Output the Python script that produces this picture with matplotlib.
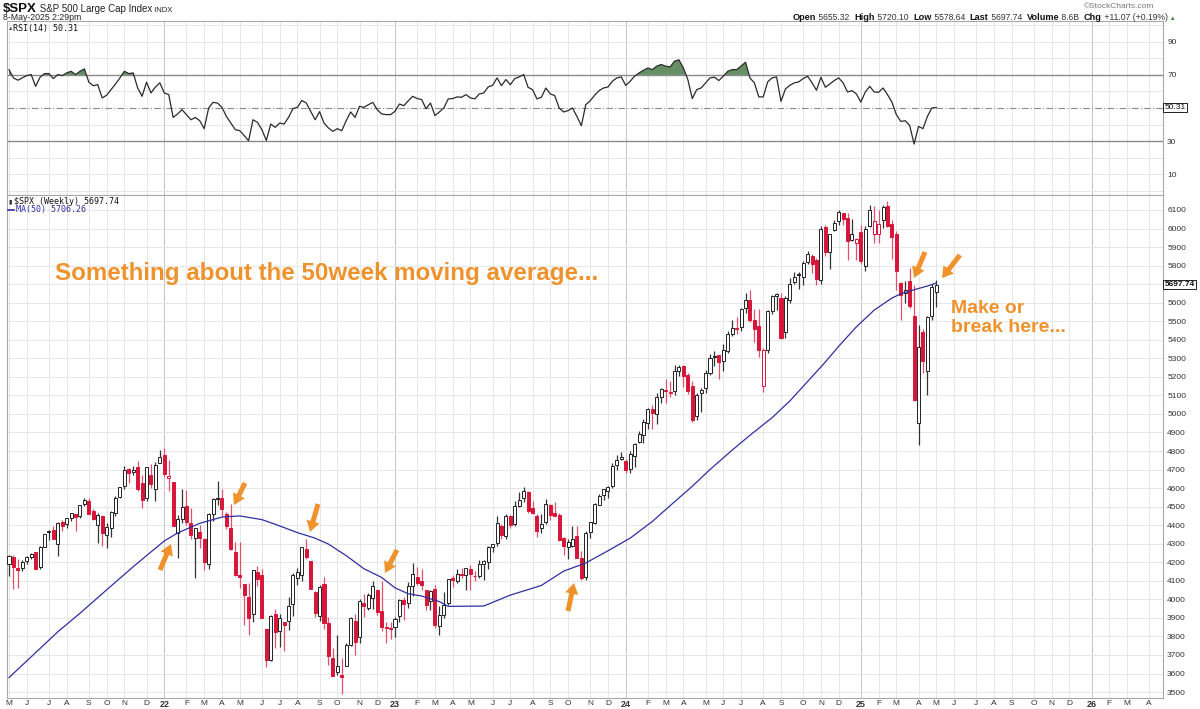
import matplotlib
matplotlib.use('Agg')
import matplotlib.pyplot as plt
import matplotlib.transforms as mtrans
import numpy as np
import pandas as pd

# ---------------- data (weekly $SPX, first bar = week of 3-May-2021) ----------------
first_week = '2021-05-03'
prev_close = 4181  # close of the week before the first bar

opens = [4192, 4228, 4169, 4170, 4207, 4230, 4255, 4173, 4285, 4361,
         4373, 4296, 4417, 4407, 4438, 4462, 4450, 4514, 4533, 4474,
         4402, 4450, 4349, 4385, 4464, 4553, 4610, 4701, 4689, 4712,
         4628, 4548, 4669, 4594, 4733, 4778, 4655, 4632, 4356, 4431,
         4505, 4412, 4332, 4363, 4328, 4188, 4462, 4541, 4547, 4462,
         4385, 4256, 4130, 4082, 4013, 3920, 4149, 4134, 3839, 3674,
         3920, 3831, 3880, 3883, 3976, 4113, 4133, 4273, 4205, 4041,
         3910, 4084, 3871, 3686, 3610, 3590, 3638, 3754, 3881, 3798,
         3982, 3956, 4006, 4053, 3939, 3853, 3843, 3853, 3911, 3999,
         3979, 4070, 4120, 4097, 4053, 3992, 4055, 3855, 3917, 3982,
         4116, 4098, 4138, 4132, 4166, 4124, 4126, 4190, 4204, 4282,
         4305, 4396, 4344, 4450, 4405, 4503, 4547, 4580, 4492, 4450,
         4386, 4415, 4510, 4464, 4454, 4330, 4284, 4290, 4342, 4224,
         4120, 4364, 4412, 4511, 4563, 4587, 4610, 4725, 4759, 4745,
         4704, 4772, 4848, 4887, 4950, 5026, 4997, 5093, 5130, 5111,
         5123, 5234, 5258, 5211, 5150, 4988, 5115, 5142, 5221, 5311,
         5316, 5284, 5341, 5433, 5459, 5471, 5572, 5614, 5505, 5476,
         5151, 5345, 5557, 5637, 5623, 5442, 5616, 5711, 5757, 5737,
         5818, 5853, 5833, 5723, 6008, 5875, 5992, 6040, 6083, 6058,
         5940, 5920, 5982, 5800, 6015, 5969, 5970, 6046, 6121, 6026,
         5968, 5705, 5653, 5718, 5527, 4953, 5441, 5232, 5529, 5655.32]

highs = [4238, 4238, 4218, 4213, 4234, 4249, 4258, 4287, 4355, 4372,
         4393, 4415, 4429, 4440, 4468, 4462, 4510, 4545, 4549, 4486,
         4465, 4457, 4411, 4475, 4559, 4608, 4718, 4706, 4718, 4744,
         4673, 4713, 4731, 4740, 4808, 4819, 4749, 4632, 4453, 4595,
         4590, 4490, 4385, 4402, 4329, 4465, 4546, 4637, 4593, 4471,
         4513, 4308, 4307, 4082, 4090, 4158, 4178, 4164, 3840, 3913,
         3946, 3919, 3880, 4013, 4140, 4167, 4280, 4326, 4205, 4044,
         4077, 4119, 3907, 3736, 3806, 3685, 3763, 3906, 3919, 4001,
         4028, 4034, 4100, 4057, 4101, 3876, 3878, 3906, 4003, 4015,
         4095, 4195, 4176, 4163, 4053, 4049, 4079, 3964, 4039, 4110,
         4133, 4163, 4170, 4170, 4186, 4154, 4212, 4212, 4290, 4299,
         4448, 4409, 4458, 4456, 4528, 4578, 4607, 4584, 4528, 4460,
         4458, 4541, 4514, 4527, 4466, 4338, 4324, 4393, 4393, 4259,
         4366, 4418, 4521, 4568, 4595, 4609, 4738, 4778, 4793, 4755,
         4799, 4843, 4907, 4975, 5030, 5048, 5111, 5140, 5190, 5180,
         5262, 5265, 5264, 5222, 5176, 5114, 5139, 5239, 5325, 5342,
         5316, 5375, 5447, 5505, 5523, 5570, 5655, 5670, 5566, 5566,
         5358, 5563, 5643, 5652, 5652, 5636, 5733, 5767, 5767, 5823,
         5878, 5862, 5842, 6013, 6018, 5973, 6045, 6100, 6085, 6085,
         6050, 5950, 6021, 6014, 6128, 6120, 6101, 6128, 6147, 6044,
         5986, 5711, 5715, 5786, 5695, 5481, 5460, 5528, 5700, 5720.10]

lows = [4127, 4057, 4062, 4155, 4188, 4218, 4165, 4165, 4281, 4320,
        4327, 4233, 4368, 4387, 4424, 4367, 4440, 4506, 4458, 4427,
        4306, 4288, 4279, 4337, 4448, 4546, 4596, 4630, 4672, 4585,
        4495, 4532, 4600, 4532, 4733, 4662, 4582, 4395, 4223, 4414,
        4401, 4327, 4115, 4279, 4157, 4161, 4424, 4507, 4450, 4381,
        4268, 4124, 4062, 3859, 3810, 3876, 4074, 3900, 3637, 3666,
        3739, 3743, 3722, 3837, 3910, 4080, 4097, 4218, 4057, 3907,
        3883, 3838, 3647, 3584, 3590, 3492, 3638, 3748, 3699, 3764,
        3906, 3940, 3947, 3918, 3827, 3764, 3784, 3795, 3877, 3886,
        3953, 4019, 4079, 4048, 3944, 3943, 3847, 3808, 3902, 3970,
        4069, 4087, 4114, 4049, 4048, 4099, 4113, 4103, 4166, 4253,
        4290, 4328, 4328, 4383, 4393, 4497, 4527, 4464, 4458, 4335,
        4356, 4409, 4430, 4448, 4316, 4238, 4216, 4283, 4223, 4104,
        4103, 4329, 4405, 4507, 4537, 4547, 4600, 4699, 4751, 4682,
        4682, 4715, 4845, 4845, 4918, 4920, 4946, 5058, 5057, 5094,
        5104, 5204, 5146, 5107, 4954, 4970, 5011, 5114, 5211, 5257,
        5191, 5234, 5328, 5420, 5433, 5448, 5543, 5497, 5390, 5306,
        5120, 5331, 5540, 5561, 5402, 5407, 5596, 5702, 5674, 5696,
        5808, 5762, 5697, 5703, 5853, 5783, 5986, 6018, 6020, 5832,
        5933, 5829, 5809, 5773, 6008, 5923, 5923, 6005, 6009, 5837,
        5667, 5505, 5597, 5572, 5069, 4835, 5220, 5101, 5506, 5578.64]

closes = [4232, 4174, 4156, 4204, 4230, 4247, 4166, 4281, 4352, 4370,
          4327, 4412, 4395, 4437, 4468, 4442, 4509, 4535, 4459, 4433,
          4455, 4357, 4391, 4471, 4545, 4605, 4697, 4683, 4698, 4595,
          4538, 4712, 4620, 4726, 4766, 4677, 4663, 4398, 4432, 4500,
          4419, 4349, 4385, 4329, 4204, 4463, 4543, 4546, 4488, 4393,
          4272, 4132, 4123, 4024, 3901, 4158, 4109, 3901, 3675, 3912,
          3825, 3899, 3863, 3962, 4130, 4145, 4280, 4228, 4058, 3924,
          4067, 3873, 3693, 3586, 3640, 3583, 3752, 3901, 3771, 3993,
          3965, 4026, 4072, 3934, 3852, 3845, 3840, 3895, 3999, 3973,
          4071, 4136, 4090, 4079, 3970, 4046, 3862, 3917, 3971, 4109,
          4105, 4138, 4133, 4169, 4136, 4124, 4192, 4205, 4282, 4299,
          4410, 4348, 4450, 4399, 4505, 4536, 4582, 4478, 4464, 4370,
          4406, 4515, 4457, 4450, 4320, 4288, 4308, 4327, 4224, 4117,
          4358, 4415, 4514, 4559, 4594, 4604, 4719, 4754, 4770, 4697,
          4784, 4840, 4891, 4959, 5027, 5006, 5089, 5137, 5124, 5117,
          5234, 5254, 5204, 5123, 4967, 5100, 5128, 5223, 5303, 5305,
          5278, 5347, 5431, 5465, 5460, 5567, 5615, 5505, 5459, 5346,
          5344, 5554, 5634, 5648, 5408, 5626, 5703, 5738, 5751, 5815,
          5865, 5808, 5729, 5996, 5871, 5969, 6032, 6090, 6051, 5931,
          5971, 5942, 5827, 5997, 6101, 6041, 6026, 6115, 6013, 5955,
          5770, 5639, 5667, 5581, 5074, 5363, 5283, 5525, 5687, 5697.74]

# 50-week moving average, read at sample weeks
ma_week = [0, 3, 7, 11, 16, 23, 28, 31, 35, 38, 43, 48, 52, 57, 60, 65, 69, 72, 76, 80,
           84, 87, 90, 93, 97, 99, 107, 113, 120, 125, 130, 135, 140, 145, 149, 154,
           158, 163, 167, 172, 176, 180, 184, 187, 191, 195, 199, 201, 204, 207, 209]
ma_value = [3578, 3645, 3735, 3825, 3925, 4072, 4176, 4236, 4315, 4358, 4410, 4444, 4450,
            4430, 4405, 4360, 4330, 4298, 4236, 4165, 4118, 4062, 4030, 4018, 3988,
            3962, 3964, 4023, 4075, 4152, 4196, 4262, 4330, 4420, 4505, 4610, 4700,
            4805, 4885, 4980, 5070, 5175, 5280, 5365, 5470, 5560, 5625, 5648, 5670,
            5690, 5706.26]

# RSI(14), one value per weekly bar
rsi = [73.2, 68.2, 66.8, 68.2, 69.6, 70.2, 63.1, 68.6, 70.8, 70.8,
       67.8, 70.2, 69.6, 71.2, 72.2, 70.2, 72.2, 73.6, 65.6, 63.5,
       64.1, 56.1, 57.7, 61.1, 64.5, 68.2, 72.2, 70.8, 71.2, 62.1,
       57.1, 65.6, 59.1, 62.7, 65.2, 59.1, 58.1, 44.3, 46.4, 49.0,
       46.0, 42.9, 44.3, 42.3, 37.5, 50.0, 53.4, 53.0, 50.4, 44.9,
       40.9, 36.9, 36.3, 33.4, 30.2, 42.9, 41.3, 36.9, 30.4, 40.3,
       38.3, 40.9, 40.3, 44.3, 49.6, 50.4, 54.6, 53.0, 48.0, 42.9,
       47.8, 40.9, 37.9, 35.9, 37.5, 36.3, 42.3, 47.6, 44.3, 51.0,
       50.4, 52.0, 53.4, 49.0, 46.4, 46.0, 46.0, 48.0, 52.4, 51.4,
       54.4, 57.1, 55.7, 55.1, 49.6, 53.0, 45.4, 47.6, 50.0, 55.5,
       55.7, 56.7, 56.5, 58.1, 56.1, 55.5, 58.5, 59.1, 62.7, 63.7,
       68.2, 63.5, 67.2, 64.1, 67.8, 68.8, 70.2, 62.5, 61.1, 55.5,
       56.5, 62.1, 58.5, 57.5, 50.0, 47.6, 48.4, 50.0, 44.9, 39.3,
       52.0, 54.4, 57.7, 60.5, 62.1, 62.7, 66.2, 68.2, 68.8, 63.6,
       66.2, 69.2, 71.2, 72.8, 74.2, 73.2, 75.3, 76.3, 75.3, 74.8,
       78.3, 79.1, 74.2, 67.2, 55.7, 61.1, 62.1, 65.2, 68.2, 68.6,
       66.6, 69.2, 72.2, 73.2, 73.2, 75.3, 77.7, 68.2, 65.2, 56.7,
       56.7, 65.8, 68.2, 68.8, 54.0, 61.5, 63.7, 65.2, 65.8, 67.8,
       69.2, 65.2, 60.7, 68.6, 62.5, 64.5, 66.6, 68.2, 65.2, 59.7,
       60.5, 58.5, 53.6, 59.7, 63.1, 59.7, 59.5, 62.1, 58.1, 53.6,
       46.0, 41.9, 42.3, 39.5, 28.2, 38.9, 37.5, 44.9, 50.0, 50.31]

price_ticks = list(range(3500, 6101, 100))
rsi_ticks = [10, 30, 70, 90]
month_letters = ['J', 'F', 'M', 'A', 'M', 'J', 'J', 'A', 'S', 'O', 'N', 'D']
monday_holidays = ['2021-05-31']

last_price = 5697.74
last_rsi = 50.31
ma_last = 5706.26

# ---------------- layout / style ----------------
W, H = 1200, 709
RED = '#D8163A'
RED_WICK = '#E2506C'
BLK = '#222222'
ORANGE = '#F0922C'
GRID = '#e6e6e6'
GRID_YEAR = '#c4c4c4'
SPINE = '#a8a8a8'
FONT = 'Liberation Sans'
MONO = 'DejaVu Sans Mono'

plt.rcParams['font.family'] = [FONT, 'DejaVu Sans']

fig = plt.figure(figsize=(W / 100, H / 100), dpi=100)
fig.patch.set_facecolor('white')


def fx(px):
    return px / W


def fy(py):
    return 1 - py / H


L, R = 7, 1163
ax_r = fig.add_axes([fx(L), fy(195), fx(R) - fx(L), (195 - 21) / H])
ax_p = fig.add_axes([fx(L), fy(698), fx(R) - fx(L), (698 - 195) / H])

n = len(closes)
x = np.arange(n)
XMIN, XMAX = -0.45, 260.1

# month grid positions (first trading week of each month)
mondays = pd.date_range(first_week, periods=int(XMAX) + 2, freq='W-MON')
first_day = [d + pd.Timedelta(days=1) if d.strftime('%Y-%m-%d') in monday_holidays else d
             for d in mondays]
tick_pos, tick_lab, tick_year = [], [], []
for i, d in enumerate(first_day):
    if i == 0 or d.month != first_day[i - 1].month:
        if i <= XMAX:
            tick_pos.append(i)
            if d.month == 1:
                tick_lab.append(d.strftime('%y'))
                tick_year.append(True)
            else:
                tick_lab.append(month_letters[d.month - 1])
                tick_year.append(False)

for ax in (ax_r, ax_p):
    ax.set_xlim(XMIN, XMAX)
    for p, yr in zip(tick_pos, tick_year):
        ax.axvline(p, color=GRID_YEAR if yr else GRID, lw=0.7, zorder=0)
    for s in ax.spines.values():
        s.set_color(SPINE)
        s.set_linewidth(0.8)
    ax.set_facecolor('white')

# ---------------- RSI panel ----------------
rsi_a = np.array(rsi)
ax_r.set_ylim(-2.6, 102.6)
for lv in range(0, 101, 10):
    if lv not in (30, 50, 70):
        ax_r.axhline(lv, color=GRID, lw=0.7, zorder=0)
ax_r.axhline(70, color='#8a8a8a', lw=1.0, zorder=1)
ax_r.axhline(30, color='#8a8a8a', lw=1.0, zorder=1)
ax_r.axhline(50, color='#8a8a8a', lw=0.8, ls=(0, (6, 2, 1, 2)), zorder=1)
ax_r.fill_between(x, rsi_a, 70, where=rsi_a > 70, interpolate=True,
                  color='#668f66', lw=0, zorder=2)
ax_r.plot(x, rsi_a, color='#2a2a2a', lw=0.9, zorder=3)
ax_r.set_xticks([])
ax_r.yaxis.tick_right()
ax_r.set_yticks(rsi_ticks)
ax_r.set_yticklabels([str(t) for t in rsi_ticks])
ax_r.tick_params(axis='y', length=0, pad=3, labelsize=6, labelcolor='#333333')
blend_r = mtrans.blended_transform_factory(ax_r.transAxes, ax_r.transData)
ax_r.text(1.0015, last_rsi, f'{last_rsi:.2f}', transform=blend_r, ha='left', va='center',
          fontsize=6, color='#111111',
          bbox=dict(boxstyle='square,pad=0.15', fc='white', ec='#222222', lw=0.7))
ax_r.text(0.0055, 0.958, 'RSI(14) 50.31', transform=ax_r.transAxes, ha='left', va='center',
          fontsize=6, family=MONO, color='#111111')
ax_r.text(0.0008, 0.958, '\u25B2', transform=ax_r.transAxes, ha='left', va='center',
          fontsize=4, color='#446644')

# ---------------- Price panel ----------------
o = np.array(opens, float)
h = np.array(highs, float)
lo = np.array(lows, float)
c = np.array(closes, float)
pc = np.concatenate([[prev_close], c[:-1]])
down = c < pc
filled = c < o
col = np.where(down, RED, BLK)
wick_col = np.where(down, RED_WICK, '#333333')
face = np.where(filled, col, 'white')

ax_p.set_ylim(3467.9, 6180.9)
for t in price_ticks:
    ax_p.axhline(t, color=GRID, lw=0.7, zorder=0)

ax_p.vlines(x, lo, h, colors=wick_col, lw=0.9, zorder=2)
body_bot = np.minimum(o, c)
body_h = np.maximum(np.abs(c - o), 4)
ax_p.bar(x, body_h, bottom=body_bot, width=0.68, color=face, edgecolor=col,
         linewidth=0.7, zorder=3)
ax_p.plot(ma_week, ma_value, color='#2f2fa0', lw=0.9, zorder=4)

ax_p.yaxis.tick_right()
ax_p.set_yticks(price_ticks)
ax_p.set_yticklabels(['' if t == 5700 else str(t) for t in price_ticks])
ax_p.tick_params(axis='y', length=0, pad=3, labelsize=6, labelcolor='#333333')
ax_p.set_xticks(tick_pos)
ax_p.set_xticklabels(tick_lab)
ax_p.tick_params(axis='x', length=0, pad=1.5, labelsize=6, labelcolor='#333333')
for lbl, yr in zip(ax_p.get_xticklabels(), tick_year):
    if yr:
        lbl.set_fontweight('bold')
        lbl.set_fontsize(6.5)

blend_p = mtrans.blended_transform_factory(ax_p.transAxes, ax_p.transData)
ax_p.text(1.0015, last_price, f'{last_price:.2f}', transform=blend_p, ha='left', va='center',
          fontsize=6, fontweight='bold', color='#111111',
          bbox=dict(boxstyle='square,pad=0.15', fc='white', ec='#222222', lw=0.7))

# panel legends
fig.text(fx(14), fy(201.5), '$SPX (Weekly) 5697.74', ha='left', va='center',
         fontsize=6, family=MONO, color='#111111')
fig.text(fx(8), fy(201.5), '\u25AE', ha='left', va='center', fontsize=4.5, color='#333333')
fig.text(fx(16), fy(209.5), f'MA(50) {ma_last:.2f}', ha='left', va='center',
         fontsize=6, family=MONO, color='#2f2fa0')
fig.add_artist(plt.Line2D([fx(8), fx(14)], [fy(209.5), fy(209.5)], color='#2f2fa0', lw=1.2))

# ---------------- header ----------------
renderer = fig.canvas.get_renderer()


def place(pieces, x0, ypx):
    xx = x0
    for s, kw in pieces:
        t = fig.text(fx(xx), fy(ypx), s, ha='left', va='baseline', **kw)
        xx += t.get_window_extent(renderer).width
    return xx


place([('$SPX', dict(fontsize=9.5, fontweight='bold', color='#111111')),
       (' S&P 500 Large Cap Index', dict(fontsize=7, color='#222222')),
       (' INDX', dict(fontsize=5.5, color='#222222'))], 3, 12)
fig.text(fx(3), fy(20), '8-May-2025 2:29pm', ha='left', va='baseline', fontsize=6.3, color='#222222')
fig.text(fx(1154), fy(8.5), '\u00A9StockCharts.com', ha='right', va='baseline', fontsize=6,
         color='#777777')
bold = dict(fontsize=6.6, fontweight='bold', color='#111111')
reg = dict(fontsize=6.2, color='#333333')
place([('Open', bold), (' 5655.32  ', reg), ('High', bold), (' 5720.10  ', reg),
       ('Low', bold), (' 5578.64  ', reg), ('Last', bold), (' 5697.74  ', reg),
       ('Volume', bold), (' 8.6B  ', reg), ('Chg', bold), (' +11.07 (+0.19%) ', reg),
       ('\u25B2', dict(fontsize=4, color='#2a7a2a'))], 793, 19.5)

# ---------------- annotations ----------------
fig.text(fx(55), fy(280), 'Something about the 50week moving average...', ha='left',
         va='baseline', fontsize=17.4, fontweight='bold', color=ORANGE)
fig.text(fx(951), fy(313), 'Make or', ha='left', va='baseline', fontsize=14,
         fontweight='bold', color=ORANGE)
fig.text(fx(951), fy(332), 'break here...', ha='left', va='baseline', fontsize=14,
         fontweight='bold', color=ORANGE)

arrows = [((160, 570), (171, 544)), ((245, 483), (234, 505)), ((318, 504), (310, 532)),
          ((397, 550), (385, 573)), ((568, 611), (574, 583)), ((925, 252), (914, 278)),
          ((960, 255), (942, 278))]
for (tx, ty), (hx, hy) in arrows:
    fig.add_artist(matplotlib.patches.FancyArrowPatch(
        (tx, H - ty), (hx, H - hy), transform=None,
        arrowstyle='simple,head_width=0.95,head_length=0.78,tail_width=0.36',
        mutation_scale=10, color=ORANGE, lw=0, shrinkA=0, shrinkB=0, zorder=10))

fig.savefig('out.png', dpi=100, facecolor='white')
